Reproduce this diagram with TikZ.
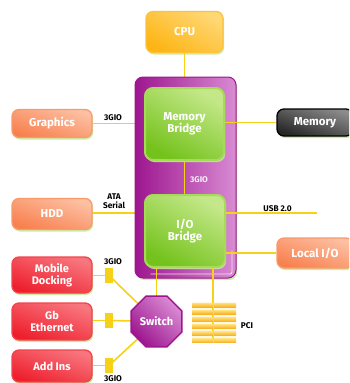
\documentclass[tikz,border=0pt]{standalone}
\usepackage{fontspec}
\setmainfont{Fira Sans}
\usetikzlibrary{shapes.geometric,shadows}
\definecolor{busyellow}{HTML}{F7D117}
\definecolor{cpuorange}{HTML}{FDB515}
\definecolor{cpulight}{HTML}{FFD774}
\definecolor{cpuedge}{HTML}{FBC23A}
\definecolor{brgreen}{HTML}{74C21C}
\definecolor{brlight}{HTML}{C4E889}
\definecolor{bredge}{HTML}{A6DB58}
\definecolor{purpdark}{HTML}{9D168F}
\definecolor{purplight}{HTML}{D98BD3}
\definecolor{salmon}{HTML}{F8804F}
\definecolor{salmonlight}{HTML}{FDC0A2}
\definecolor{salmonedge}{HTML}{F99A6B}
\definecolor{redbox}{HTML}{EE1F2D}
\definecolor{redlight}{HTML}{F8767E}
\definecolor{rededge}{HTML}{F2434E}
\definecolor{graydark}{HTML}{262626}
\definecolor{graylight}{HTML}{8C8C8C}
\definecolor{glowgreen}{HTML}{C6EA9C}
\definecolor{pciorange}{HTML}{F9AE1E}
\definecolor{pcilight}{HTML}{FFE07A}
\begin{document}
\begin{tikzpicture}[x=1pt,y=-1pt,
  glow/.style={drop shadow={fill=glowgreen,opacity=0.9,shadow xshift=1.2pt,shadow yshift=-2pt}},
  unit/.style={line width=1.3pt, inner sep=0pt, align=center,
    text=white, font=\bfseries\fontsize{11.5}{12}\selectfont, glow, rounded corners=7pt},
  cpubox/.style={unit, draw=cpuedge, top color=cpuorange, bottom color=cpulight, shading angle=150},
  bridge/.style={unit, line width=2pt, draw=bredge, top color=brgreen, bottom color=brlight, shading angle=150,
    font=\bfseries\fontsize{11.5}{12.5}\selectfont, rounded corners=8pt},
  salbox/.style={unit, draw=salmonedge, top color=salmon, bottom color=salmonlight, shading angle=160, minimum width=80pt},
  redunit/.style={unit, draw=rededge, top color=redbox, bottom color=redlight, shading angle=160, minimum width=80pt,
    font=\bfseries\fontsize{11}{12}\selectfont},
  graybox/.style={unit, draw=black, top color=graydark, bottom color=graylight, shading angle=160},
  frame/.style={draw=purpdark, line width=1pt, left color=purpdark, middle color=purpdark,
    right color=purplight, glow, rounded corners=8pt},
  lbl/.style={font=\bfseries\fontsize{8.3}{8.5}\selectfont, text=black, inner sep=0pt, align=center},
  bus/.style={draw=busyellow, line width=1.6pt},
  tap/.style={fill=busyellow, minimum width=8pt, minimum height=15pt, inner sep=0pt},
  stripe/.style={top color=pcilight, bottom color=pciorange, draw=none}
]
\useasboundingbox (0,0) rectangle (349,383);
\clip (0,0) rectangle (349,383);

% outer units
\node[cpubox, minimum width=77pt, minimum height=41pt] (cpu) at (184.5,32) {CPU};
\node[salbox, minimum height=28pt] (graphics) at (52,123.5) {Graphics};
\node[graybox, minimum width=76pt, minimum height=27pt] (memory) at (315,122.5) {Memory};
\node[salbox, minimum height=31pt] (hdd) at (52,214) {HDD};
\node[salbox, minimum width=76pt, minimum height=30pt] (localio) at (315,253) {Local I/O};
\node[redunit, minimum height=36pt] (mobile) at (52,275) {Mobile\\Docking};
\node[redunit, minimum height=37pt] (gb) at (52,321.5) {Gb\\Ethernet};
\node[redunit, minimum height=32pt] (addins) at (52,366) {Add Ins};

% buses behind the frame
\node[minimum width=79pt, minimum height=72pt, inner sep=0pt] (mbpos) at (184.5,124) {};
\node[minimum width=80pt, minimum height=72pt, inner sep=0pt] (iobpos) at (185,231) {};
\draw[bus] (cpu.south) -- (mbpos.north);
\draw[bus] (graphics.east) -- (graphics.east -| mbpos.west);
\draw[bus] (hdd.east |- 0,213) -- (iobpos.west |- 0,213);

% purple frame
\node[frame, minimum width=101pt, minimum height=201pt, inner sep=0pt] (frame) at (185.5,177.5) {};
\draw[white!75!purplight, line width=0.9pt, rounded corners=2pt]
  ([shift={(-86pt,4.5pt)}]frame.south east) -- ([shift={(-4.5pt,4.5pt)}]frame.south east) -- ([shift={(-4.5pt,28pt)}]frame.south east);

% bridges
\node[bridge, minimum width=79pt, minimum height=72pt] (mb) at (184.5,124) {Memory\\Bridge};
\node[bridge, minimum width=80pt, minimum height=72pt] (iob) at (185,231) {I/O\\Bridge};

% buses over the frame
\draw[bus] (mb.south -| cpu.south) -- (iob.north -| cpu.south);
\draw[bus] (mb.east |- memory.west) -- (memory.west);
\coordinate (usbend) at (317,213);
\draw[bus] (iob.east |- usbend) -- (usbend);
\draw[bus] (iob.east |- localio.west) -- (localio.west);

% switch and PCI
\node[minimum width=44pt, minimum height=41pt, inner sep=0pt] (pci) at (214,322.5) {};
\fill[white!80!pcilight] (pci.south west) rectangle (pci.north east);
\draw[bus, line width=1.3pt] (iob.south -| 213,0) -- (pci.south -| 213,0);
\foreach \i in {0,...,5}{
  \fill[stripe] (192,303+7.1*\i) rectangle (236,307.2+7.1*\i);
}
\draw[busyellow!80!white, line width=1pt] (pci.north -| 213,0) -- (pci.south -| 213,0);

\node[regular polygon, regular polygon sides=8, minimum size=55pt, inner sep=0pt] (swpos) at (156.5,321.5) {};
\node[tap] (t1) at (109,275.5) {};
\node[tap] (t2) at (109,320.5) {};
\node[tap] (t3) at (109,365.5) {};
\draw[bus] (mobile.east |- t1) -- (t1);
\draw[bus] (gb.east |- t2) -- (t2);
\draw[bus] (addins.east |- t3) -- (t3);
\draw[bus] (t1.center) -- (swpos.center);
\draw[bus] (t2.center) -- (swpos.center);
\draw[bus] (t3.center) -- (swpos.center);
\draw[bus] (iob.south -| swpos.north) -- (swpos.north);
\node[tap] at (t1) {};
\node[tap] at (t2) {};
\node[tap] at (t3) {};
\node[regular polygon, regular polygon sides=8, minimum size=55pt, inner sep=0pt,
  draw=purpdark, line width=1.5pt, left color=purpdark, right color=purplight, shading angle=135,
  text=white, font=\bfseries\fontsize{11}{11.5}\selectfont] (sw) at (156.5,321.5) {Switch};

% labels
\node[lbl] at (113,118) {3GIO};
\node[lbl, text=white!85!purplight] at (199,179.5) {3GIO};
\node[lbl] at (114,201) {ATA\\Serial};
\node[lbl] at (277.5,208.5) {USB 2.0};
\node[lbl] at (113,262) {3GIO};
\node[lbl] at (113,378.5) {3GIO};
\node[lbl] at (247,325.5) {PCI};
\end{tikzpicture}
\end{document}
